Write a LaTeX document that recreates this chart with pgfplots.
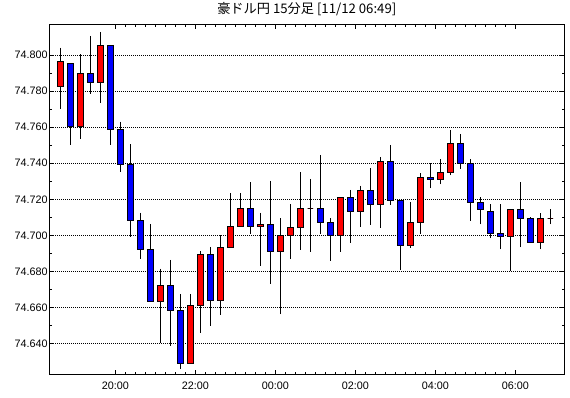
\documentclass[border=0pt]{standalone}
\usepackage{pgfplots}
\pgfplotsset{compat=1.18}
\usepgfplotslibrary{statistics}
\usepackage{fontspec}
\setmainfont{Liberation Sans}
\newfontfamily\cjk{Noto Sans CJK JP}
% candle macros: #1 time (hours), #2 open, #3 high, #4 low, #5 close
\newcommand\up[5]{\addplot[upc, boxplot prepared={draw position=#1, lower whisker=#4, lower quartile=#2, median=#2, upper quartile=#5, upper whisker=#3}] coordinates {};}
\newcommand\dn[5]{\addplot[dnc, boxplot prepared={draw position=#1, lower whisker=#4, lower quartile=#5, median=#5, upper quartile=#2, upper whisker=#3}] coordinates {};}
\begin{document}
\begin{tikzpicture}
\useasboundingbox (0,0) rectangle (570pt,398pt);
\begin{axis}[
  at={(49.3pt,23pt)}, anchor=south west,
  scale only axis, width=515pt, height=350.7pt,
  xmin=18.35, xmax=31.225, ymin=74.6224, ymax=74.8172,
  xtick={20,22,24,26,28,30},
  xticklabels={20:00,22:00,00:00,02:00,04:00,06:00},
  minor x tick num=7,
  ytick={74.64,74.66,74.68,74.70,74.72,74.74,74.76,74.78,74.80},
  minor y tick num=1,
  axis line style={black, line width=1pt},
  tick style={black, line width=0.8pt},
  major tick length=5pt, minor tick length=2.7pt,
  ymajorgrids=true,
  major grid style={black, line width=0.8pt, dash pattern=on 1pt off 1pt},
  ticklabel style={font=\fontsize{10.8}{12}\selectfont},
  /pgf/number format/assume math mode=true,
  yticklabel style={/pgf/number format/.cd, fixed, fixed zerofill, precision=3, /tikz/.cd, inner xsep=1.5pt},
  xticklabel style={yshift=-3.5pt},
  title={\cjk 豪ドル円 15分足 [11/12 06:49]},
  title style={font=\fontsize{13.2}{15}\selectfont, at={(0.5,1)}, anchor=base, yshift=5pt, inner sep=0pt},
  boxplot/draw direction=y,
  boxplot/box extend=0.14,
  boxplot/whisker extend=0,
  boxplot/every median/.style={draw=none},
  upc/.style={draw=black, fill=red, line width=1pt},
  dnc/.style={draw=black, fill=blue, line width=1pt},
]
\up{18.625}{74.7828}{74.8043}{74.7704}{74.7967}
\dn{18.875}{74.7956}{74.7956}{74.7504}{74.7606}
\up{19.125}{74.7606}{74.8006}{74.7537}{74.7900}
\dn{19.375}{74.7900}{74.8107}{74.7787}{74.7848}
\up{19.625}{74.7848}{74.8130}{74.7737}{74.8056}
\dn{19.875}{74.8052}{74.8052}{74.7504}{74.7589}
\dn{20.125}{74.7589}{74.7631}{74.7354}{74.7394}
\dn{20.375}{74.7394}{74.7506}{74.6993}{74.7081}
\dn{20.625}{74.7081}{74.7126}{74.6870}{74.6922}
\dn{20.875}{74.6922}{74.7063}{74.6631}{74.6631}
\up{21.125}{74.6631}{74.6815}{74.6400}{74.6722}
\dn{21.375}{74.6722}{74.6863}{74.6387}{74.6583}
\dn{21.625}{74.6583}{74.6674}{74.6259}{74.6289}
\up{21.875}{74.6289}{74.6674}{74.6289}{74.6611}
\up{22.125}{74.6611}{74.6913}{74.6459}{74.6894}
\dn{22.375}{74.6894}{74.6935}{74.6498}{74.6639}
\up{22.625}{74.6639}{74.7000}{74.6559}{74.6933}
\up{22.875}{74.6933}{74.7235}{74.6933}{74.7050}
\up{23.125}{74.7050}{74.7235}{74.7050}{74.7150}
\dn{23.375}{74.7150}{74.7294}{74.7009}{74.7050}
\up{23.625}{74.7050}{74.7126}{74.6831}{74.7061}
\dn{23.875}{74.7061}{74.7302}{74.6731}{74.6911}
\up{24.125}{74.6911}{74.7094}{74.6561}{74.7000}
\up{24.375}{74.7000}{74.7174}{74.6870}{74.7044}
\up{24.625}{74.7044}{74.7352}{74.6920}{74.7150}
\up{24.875}{74.7150}{74.7313}{74.6909}{74.7150}
\dn{25.125}{74.7150}{74.7446}{74.7009}{74.7072}
\dn{25.375}{74.7072}{74.7094}{74.6859}{74.7000}
\up{25.625}{74.7000}{74.7211}{74.6909}{74.7211}
\dn{25.875}{74.7211}{74.7252}{74.6959}{74.7133}
\up{26.125}{74.7133}{74.7276}{74.7048}{74.7250}
\dn{26.375}{74.7250}{74.7372}{74.7059}{74.7172}
\up{26.625}{74.7172}{74.7435}{74.7043}{74.7411}
\dn{26.875}{74.7411}{74.7502}{74.7170}{74.7194}
\dn{27.125}{74.7194}{74.7194}{74.6809}{74.6944}
\up{27.375}{74.6944}{74.7185}{74.6931}{74.7072}
\up{27.625}{74.7072}{74.7346}{74.7009}{74.7322}
\dn{27.875}{74.7322}{74.7400}{74.7261}{74.7311}
\up{28.125}{74.7311}{74.7422}{74.7283}{74.7350}
\up{28.375}{74.7350}{74.7585}{74.7333}{74.7511}
\dn{28.625}{74.7511}{74.7563}{74.7370}{74.7400}
\dn{28.875}{74.7400}{74.7422}{74.7081}{74.7183}
\dn{29.125}{74.7183}{74.7211}{74.7061}{74.7144}
\dn{29.375}{74.7133}{74.7172}{74.6983}{74.7011}
\dn{29.625}{74.7011}{74.7172}{74.6922}{74.6994}
\up{29.875}{74.6994}{74.7144}{74.6800}{74.7144}
\dn{30.125}{74.7144}{74.7294}{74.6933}{74.7094}
\dn{30.375}{74.7094}{74.7100}{74.6961}{74.6961}
\up{30.625}{74.6961}{74.7122}{74.6922}{74.7094}
\up{30.875}{74.7094}{74.7144}{74.7061}{74.7094}
\end{axis}
\end{tikzpicture}
\end{document}
